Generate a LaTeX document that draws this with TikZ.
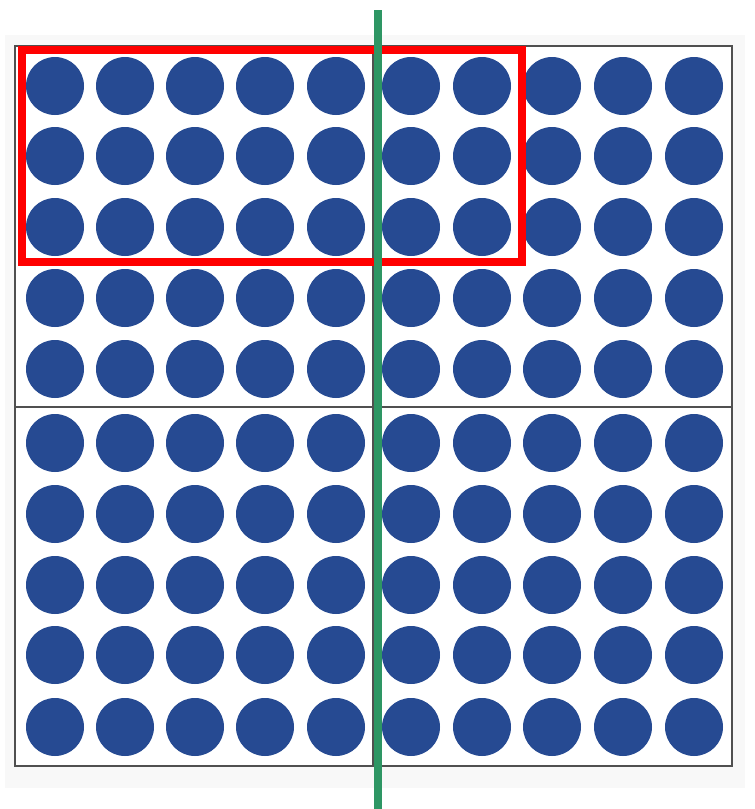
\documentclass[tikz,border=0pt]{standalone}
\definecolor{dotblue}{RGB}{38,74,146}
\definecolor{framegray}{RGB}{80,80,80}
\definecolor{paper}{RGB}{248,248,248}
\definecolor{markred}{RGB}{255,0,0}
\definecolor{markgreen}{RGB}{46,150,100}
\begin{document}
\begin{tikzpicture}[x=1pt,y=-1pt,
  dot/.style={fill=dotblue},
  frame/.style={draw=framegray,line width=1.8pt},
  redbox/.style={draw=markred,line width=8pt},
  greenline/.style={draw=markgreen,line width=8pt}]
\useasboundingbox (0,0) rectangle (755,809);
\fill[white] (0,0) rectangle (755,809);
\fill[paper] (5,35) rectangle (745,788);
\fill[white] (15,46) rectangle (732,766);
% dots
\foreach \x in {55,125,195,265,336,411,482,552,623,694}{
  \foreach \y in {86,156,227,298,369,443,514,585,655,727}{
    \fill[dot] (\x,\y) circle (29);
  }
}
% frame
\draw[frame] (15,46) rectangle (732,766);
\draw[frame] (15,407) -- (732,407);
\draw[frame] (373,46) -- (373,766);
% red box
\draw[redbox] (21.5,50) rectangle (522,262);
% green line
\draw[greenline] (378,10) -- (378,809);
\end{tikzpicture}
\end{document}
